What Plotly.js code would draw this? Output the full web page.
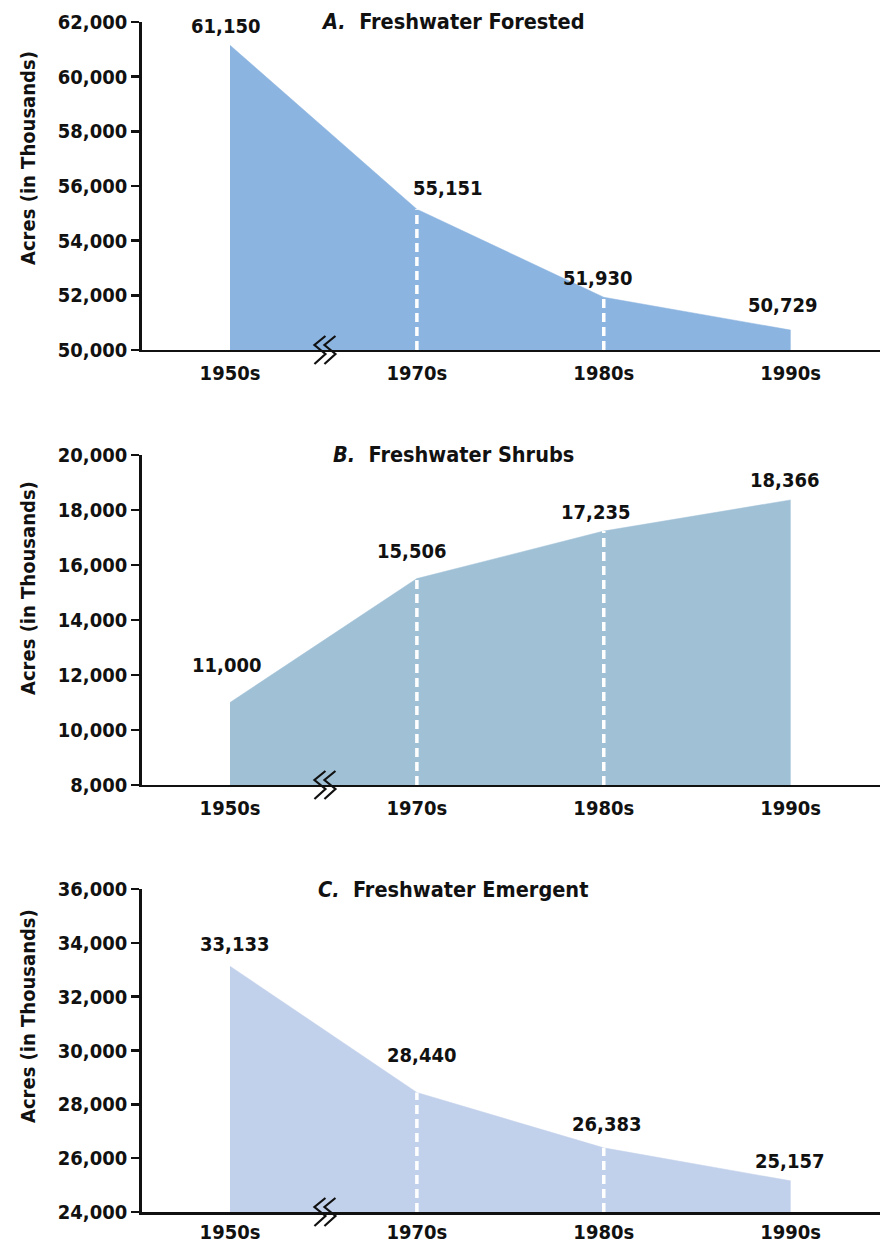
<!DOCTYPE html>
<html>
<head>
<meta charset="utf-8">
<script src="https://cdn.plot.ly/plotly-3.0.1.min.js"></script>
<style>html,body{margin:0;padding:0;background:#fff;}#chart{width:882px;height:1245px;}</style>
</head>
<body>
<div id="chart"></div>
<script>
// ---- data ----
const decades = ['1950s', '1970s', '1980s', '1990s'];
const forested = [61150, 55151, 51930, 50729];
const shrubs = [11000, 15506, 17235, 18366];
const emergent = [33133, 28440, 26383, 25157];
const panelTitles = ['A.', 'B.', 'C.'];
const panelNames = ['Freshwater Forested', 'Freshwater Shrubs', 'Freshwater Emergent'];
const yTitle = 'Acres (in Thousands)';

// ---- styling ----
const FONT = 'DejaVu Sans Condensed, DejaVu Sans, sans-serif';
const fills = ['#8cb4e0', '#a0c0d6', '#c2d1eb'];
const yRanges = [[50000, 62000], [8000, 20000], [24000, 36000]];
const yDomains = [[0.71888, 0.98233], [0.36948, 0.63454], [0.02650, 0.28594]];
const yTitleCenters = [0.8731, 0.5277, 0.1839];
const xDomain = [0.16066, 0.9977];
const xRange = [-0.4725, 3.478];
const xTickLen = [4, 4, 0];
// label offsets (pixels) per panel per point
const labShiftX = [[-5, 31, -6, -8], [-4, -5, -8, -6], [4, 5, 3, -1]];
const labShiftY = [[19, 21, 19, 25], [37, 28, 19, 20], [22, 37, 24, 20]];

const series = [forested, shrubs, emergent];
const xIdx = decades.map((d, i) => i);
const fmt = v => v.toLocaleString('en-US');
const toPaperX = v => xDomain[0] + (v - xRange[0]) / (xRange[1] - xRange[0]) * (xDomain[1] - xDomain[0]);

const traces = [];
const annotations = [];
const shapes = [];
const layout = {
  width: 882, height: 1245,
  margin: {l: 0, r: 0, t: 0, b: 0},
  paper_bgcolor: '#ffffff', plot_bgcolor: '#ffffff',
  showlegend: false,
  font: {family: FONT, size: 20, color: '#111111', weight: 'bold'}
};

series.forEach((vals, p) => {
  const sfx = p === 0 ? '' : String(p + 1);
  const xa = 'x' + sfx, ya = 'y' + sfx;
  // filled area
  traces.push({
    type: 'scatter', mode: 'lines', x: xIdx, y: vals,
    xaxis: xa, yaxis: ya,
    fill: 'tozeroy', fillcolor: fills[p],
    line: {color: fills[p], width: 0.5},
    hoverinfo: 'skip'
  });
  // dashed white dividers at inner decades
  [1, 2].forEach(i => {
    traces.push({
      type: 'scatter', mode: 'lines',
      x: [xIdx[i], xIdx[i]], y: [yRanges[p][0], vals[i]],
      xaxis: xa, yaxis: ya,
      line: {color: '#ffffff', width: 3.5, dash: '9px,5px'},
      hoverinfo: 'skip'
    });
  });
  // value labels
  vals.forEach((v, i) => {
    annotations.push({
      xref: xa, yref: ya, x: xIdx[i], y: v,
      text: fmt(v), showarrow: false,
      xanchor: 'center', yanchor: 'middle',
      xshift: labShiftX[p][i], yshift: labShiftY[p][i],
      font: {family: FONT, size: 20, color: '#111111', weight: 'bold'}
    });
  });
  // panel title
  annotations.push({
    xref: 'paper', yref: 'paper', x: 453 / 882, y: yDomains[p][1],
    xanchor: 'center', yanchor: 'middle', showarrow: false,
    text: '<i>' + panelTitles[p] + '</i>\u00a0\u00a0' + panelNames[p],
    font: {family: FONT, size: 21.5, color: '#111111', weight: 'bold'}
  });
  // y axis title
  annotations.push({
    xref: 'paper', yref: 'paper', x: 28 / 882, y: yTitleCenters[p],
    xanchor: 'center', yanchor: 'middle', showarrow: false, textangle: -90,
    text: yTitle,
    font: {family: FONT, size: 20, color: '#111111', weight: 'bold'}
  });
  // axis break marks (between 1950s and 1970s), drawn unclipped in paper space
  [0, 10].forEach(dx => {
    shapes.push({
      type: 'path', xref: 'paper', yref: 'paper',
      xsizemode: 'pixel', ysizemode: 'pixel',
      xanchor: toPaperX(0.5), yanchor: yDomains[p][0],
      path: `M ${dx + 2},14 L ${dx - 9},5 L ${dx + 2},-4 L ${dx - 9},-14`,
      line: {color: '#111111', width: 2.2}
    });
  });

  layout['xaxis' + sfx] = {
    domain: xDomain, range: xRange, anchor: ya,
    tickvals: xIdx, ticktext: decades,
    showgrid: false, zeroline: false,
    showline: true, linecolor: '#111111', linewidth: 2.5,
    ticks: xTickLen[p] > 0 ? 'outside' : '', ticklen: xTickLen[p], tickcolor: 'rgba(0,0,0,0)',
    tickfont: {family: FONT, size: 20, color: '#111111', weight: 'bold'},
    fixedrange: true
  };
  layout['yaxis' + sfx] = {
    domain: yDomains[p], range: yRanges[p], anchor: xa,
    dtick: 2000, tickformat: ',d',
    showgrid: false, zeroline: false,
    showline: true, linecolor: '#111111', linewidth: 2.5,
    ticks: 'outside', ticklen: 8, tickwidth: 2.5, tickcolor: '#111111',
    tickfont: {family: FONT, size: 20, color: '#111111', weight: 'bold'},
    fixedrange: true
  };
});

layout.annotations = annotations;
layout.shapes = shapes;

Plotly.newPlot('chart', traces, layout, {displayModeBar: false, staticPlot: true});
</script>
</body>
</html>
